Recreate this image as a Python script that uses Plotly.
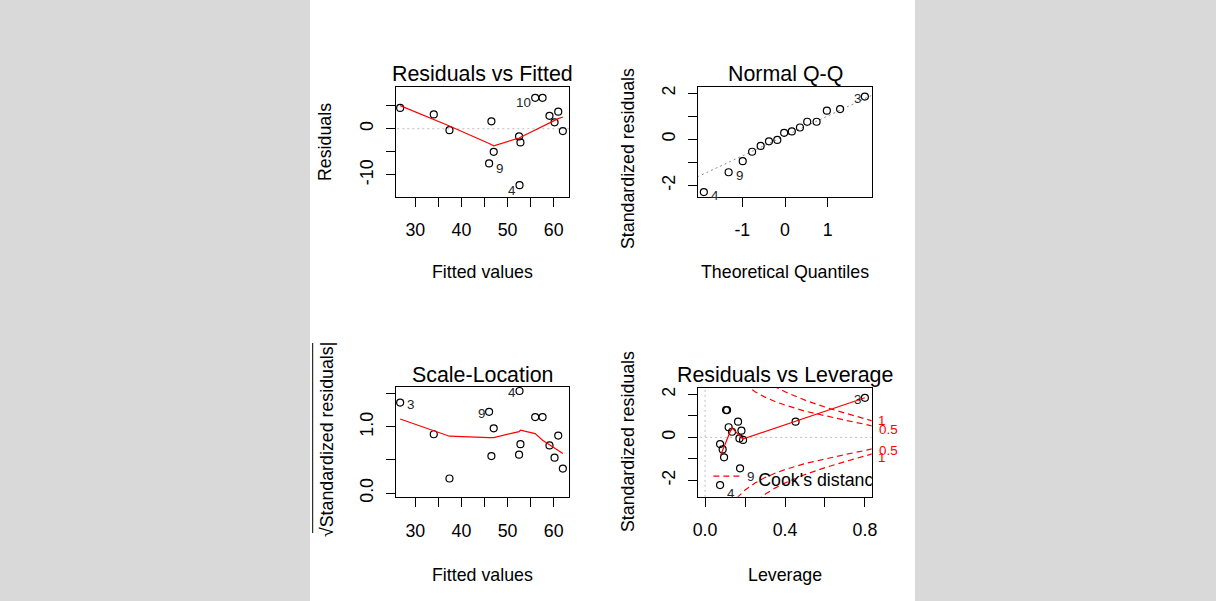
import plotly.graph_objects as go

fitted = [26.7, 34.0, 37.4, 46.0, 46.5, 47.0, 52.5, 52.6, 52.8, 56.0, 57.6, 59.1, 60.2, 61.0, 62.0]
residuals = [4.5, 3.1, -0.3, -7.5, 1.6, -5.0, -1.65, -12.2, -2.95, 6.7, 6.7, 2.8, 1.4, 3.7, -0.5]
resid_smooth = [5.0, 2.0, 0.6, -3.2, -3.45, -3.7, -2.0, -1.95, -1.9, -0.3, 0.5, 1.27, 1.85, 2.2, 2.55]
sqrt_std_resid = [1.37, 0.89, 0.22, 1.23, 0.56, 0.98, 0.58, 1.545, 0.74, 1.15, 1.15, 0.72, 0.535, 0.87, 0.37]
scale_smooth = [1.12, 0.94, 0.86, 0.84, 0.84, 0.84, 0.93, 0.94, 0.95, 0.90, 0.80, 0.73, 0.68, 0.65, 0.60]
leverage = [0.80, 0.453, 0.172, 0.175, 0.182, 0.095, 0.075, 0.075, 0.088, 0.11, 0.105, 0.118, 0.135, 0.165, 0.19]
std_resid = [1.84, 0.73, -0.05, -1.44, 0.31, -0.93, -0.31, -2.22, -0.56, 1.27, 1.27, 0.47, 0.26, 0.73, -0.12]
obs_id = ["3", "", "", "9", "", "", "", "4", "", "10", "", "", "", "", ""]

# normal Q-Q
theo_quantiles = [-1.9, -1.32, -0.99, -0.77, -0.57, -0.375, -0.18, -0.02, 0.16, 0.35, 0.52, 0.74, 0.98, 1.29, 1.87]
sample_quantiles = [-2.29, -1.43, -0.95, -0.54, -0.29, -0.09, -0.03, 0.28, 0.34, 0.51, 0.76, 0.76, 1.24, 1.31, 1.85]
qq_line_x = [-2.05, 2.05]
qq_line_y = [-1.63, 1.92]

# residuals vs leverage
lev_smooth_x = [0.0785, 0.1335, 0.1885, 0.80]
lev_smooth_y = [-0.82, 0.45, -0.08, 1.84]
cook_h = [0.16, 0.2, 0.25, 0.3, 0.35, 0.4, 0.5, 0.6, 0.7, 0.8, 0.84]
cook_05 = [2.81, 2.45, 2.12, 1.87, 1.67, 1.5, 1.22, 1.0, 0.8, 0.61, 0.53]
cook_1 = [3.97, 3.46, 3.0, 2.65, 2.36, 2.12, 1.73, 1.41, 1.13, 0.87, 0.76]
cook_levels = ["1", "0.5", "0.5", "1"]
cook_label_y = [0.78, 0.36, -0.62, -0.92]

FONT = "Liberation Sans"
W, H = 1216, 601
RED = "#ff0000"


def px_x(v):
    return v / W


def px_y(v):
    return 1 - v / H


fig = go.Figure()

# --- panel 1: residuals vs fitted
fig.add_trace(go.Scatter(x=[25, 64], y=[0, 0], mode="lines", xaxis="x", yaxis="y",
                         line=dict(color="#bdbdbd", width=1, dash="2px,3px")))
fig.add_trace(go.Scatter(x=fitted, y=residuals, mode="markers", xaxis="x", yaxis="y",
                         marker=dict(symbol="circle-open", size=7, color="black", line=dict(width=1.2))))
fig.add_trace(go.Scatter(x=fitted, y=resid_smooth, mode="lines", xaxis="x", yaxis="y",
                         line=dict(color=RED, width=1.2)))

# --- panel 2: normal Q-Q
fig.add_trace(go.Scatter(x=qq_line_x, y=qq_line_y, mode="lines", xaxis="x2", yaxis="y2",
                         line=dict(color="#8c8c8c", width=1, dash="2px,3px")))
fig.add_trace(go.Scatter(x=theo_quantiles, y=sample_quantiles, mode="markers", xaxis="x2", yaxis="y2",
                         marker=dict(symbol="circle-open", size=7, color="black", line=dict(width=1.2))))

# --- panel 3: scale-location
fig.add_trace(go.Scatter(x=fitted, y=sqrt_std_resid, mode="markers", xaxis="x3", yaxis="y3",
                         marker=dict(symbol="circle-open", size=7, color="black", line=dict(width=1.2))))
fig.add_trace(go.Scatter(x=fitted, y=scale_smooth, mode="lines", xaxis="x3", yaxis="y3",
                         line=dict(color=RED, width=1.2)))

# --- panel 4: residuals vs leverage
fig.add_trace(go.Scatter(x=[-0.1, 1], y=[0, 0], mode="lines", xaxis="x4", yaxis="y4",
                         line=dict(color="#bdbdbd", width=1, dash="2px,3px")))
fig.add_trace(go.Scatter(x=[0, 0], y=[-3, 3], mode="lines", xaxis="x4", yaxis="y4",
                         line=dict(color="#bdbdbd", width=1, dash="2px,3px")))
for curve in (cook_05, cook_1):
    for sign in (1, -1):
        fig.add_trace(go.Scatter(x=cook_h, y=[sign * v for v in curve], mode="lines",
                                 xaxis="x4", yaxis="y4",
                                 line=dict(color=RED, width=1.2, dash="6px,4px")))
fig.add_trace(go.Scatter(x=leverage, y=std_resid, mode="markers", xaxis="x4", yaxis="y4",
                         marker=dict(symbol="circle-open", size=7, color="black", line=dict(width=1.2))))
fig.add_trace(go.Scatter(x=lev_smooth_x, y=lev_smooth_y, mode="lines", xaxis="x4", yaxis="y4",
                         line=dict(color=RED, width=1.2)))
# legend, clipped by the plot area as in the original
fig.add_trace(go.Scatter(x=[0.0415, 0.1915], y=[-1.8, -1.8], mode="lines", xaxis="x4", yaxis="y4",
                         line=dict(color=RED, width=1.2, dash="6px,4px")))
fig.add_trace(go.Scatter(x=[0.266], y=[-2.07], mode="text", text=["Cook's distance"],
                         textposition="middle right", xaxis="x4", yaxis="y4",
                         textfont=dict(family=FONT, size=17.8, color="black")))


def axis(domain, anchor, rng, tickvals, ticktext, is_y=False):
    d = dict(domain=domain, anchor=anchor, range=rng, tickmode="array", automargin=False,
             tickvals=tickvals, ticktext=ticktext, showline=True, mirror=True,
             linecolor="black", linewidth=1, ticks="outside", ticklen=9,
             tickcolor="black", tickwidth=1, showgrid=False, zeroline=False,
             tickfont=dict(family=FONT, size=17.8, color="black"))
    if is_y:
        d.update(tickangle=-90, ticklabelstandoff=6)
    else:
        d.update(ticklabelstandoff=8)
    return d


fx = [30, 35, 40, 45, 50, 55, 60]
ft = ["30", "", "40", "", "50", "", "60"]
std_ticks = [-2, -1, 0, 1, 2]
std_text = ["-2", "", "0", "", "2"]

top_dom = [px_y(196.7), px_y(86.7)]
bot_dom = [px_y(497.3), px_y(386.7)]
left_dom = [px_x(396), px_x(569.3)]
right_dom = [px_x(698.3), px_x(871.7)]

fig.update_layout(
    width=W, height=H, autosize=False,
    margin=dict(l=0, r=0, t=0, b=0, autoexpand=False),
    paper_bgcolor="#d9d9d9",
    plot_bgcolor="white",
    showlegend=False,
    font=dict(family=FONT, color="black"),
    xaxis=axis(left_dom, "y", [25.8, 63.4], fx, ft),
    yaxis=axis(top_dom, "x", [-14.7, 9.1], [-10, -5, 0, 5], ["-10", "", "0", ""], True),
    xaxis2=axis(right_dom, "y2", [-2.03, 2.03], [-1, 0, 1], ["-1", "0", "1"]),
    yaxis2=axis(top_dom, "x2", [-2.49, 2.28], std_ticks, std_text, True),
    xaxis3=axis(left_dom, "y3", [25.8, 63.4], fx, ft),
    yaxis3=axis(bot_dom, "x3", [-0.065, 1.61], [0, 0.5, 1.0, 1.5], ["0.0", "", "1.0", ""], True),
    xaxis4=axis(right_dom, "y4", [-0.034, 0.834], [0, 0.2, 0.4, 0.6, 0.8], ["0.0", "", "0.4", "", "0.8"]),
    yaxis4=axis([px_y(496.7), px_y(387.7)], "x4", [-2.76, 2.31], std_ticks, std_text, True),
)

# white figure region
fig.add_shape(type="rect", xref="paper", yref="paper", x0=px_x(310), x1=px_x(915), y0=0, y1=1,
              fillcolor="white", line=dict(width=0), layer="below")

ann = []


def text(x, y, s, size=17.8, angle=0, **kw):
    ann.append(dict(x=x, y=y, xref="paper", yref="paper", text=s, showarrow=False,
                    xanchor="center", yanchor="middle",
                    textangle=angle, font=dict(family=FONT, size=size, color="black"), **kw))


# titles
text(px_x(482.5), px_y(74), "Residuals vs Fitted", 21.4)
text(px_x(785), px_y(74), "Normal Q-Q", 21.4)
text(px_x(482.5), px_y(375), "Scale-Location", 21.4)
text(px_x(785), px_y(375), "Residuals vs Leverage", 21.4)
# axis titles
text(px_x(482.5), px_y(272), "Fitted values")
text(px_x(785), px_y(272), "Theoretical Quantiles")
text(px_x(482.5), px_y(575), "Fitted values")
text(px_x(785), px_y(575), "Leverage")
text(px_x(325), px_y(142), "Residuals", angle=-90)
text(px_x(628), px_y(159), "Standardized residuals", angle=-90)
text(px_x(327), px_y(440), "√Standardized residuals|", angle=-90)
text(px_x(628), px_y(442), "Standardized residuals", angle=-90)

# observation labels
ID_FONT = dict(family=FONT, size=13.4, color="#262626")


def id_label(xr, yr, x, y, s, side, dy=-5):
    left = side == "left"
    ann.append(dict(x=x, y=y, xref=xr, yref=yr, text=s, showarrow=False, font=ID_FONT,
                    xanchor="right" if left else "left", yanchor="middle",
                    xshift=-2 if left else 5, yshift=dy))


for i, s in enumerate(obs_id):
    if not s:
        continue
    # residuals vs fitted: 4, 9, 10
    if s != "3":
        id_label("x", "y", fitted[i], residuals[i], s, "left" if fitted[i] > 51 else "right")
    # scale-location and leverage: 3, 9, 4
    if s != "10":
        id_label("x3", "y3", fitted[i], sqrt_std_resid[i], s, "right" if s == "3" else "left", -2)
        id_label("x4", "y4", leverage[i], std_resid[i], s, "left" if s == "3" else "right",
                 -2 if s == "3" else -8)

# Q-Q labels
id_label("x2", "y2", theo_quantiles[0], sample_quantiles[0], "4", "right", -3)
id_label("x2", "y2", theo_quantiles[1], sample_quantiles[1], "9", "right", -3)
id_label("x2", "y2", theo_quantiles[-1], sample_quantiles[-1], "3", "left", -2)

# Cook's distance levels on the right edge
for lvl, yv in zip(cook_levels, cook_label_y):
    ann.append(dict(x=1, y=yv, xref="x4 domain", yref="y4", text=lvl, showarrow=False,
                    xanchor="left", yanchor="middle", xshift=4 if lvl == "1" else 5,
                    font=dict(family=FONT, size=13.4, color=RED)))

fig.update_layout(annotations=ann)

# vinculum of the square root in the scale-location label
fig.add_shape(type="line", xref="paper", yref="paper", x0=px_x(312.7), x1=px_x(312.7),
              y0=px_y(533), y1=px_y(343), line=dict(color="black", width=1))

page_fix = """
var gd = document.getElementsByClassName('plotly-graph-div')[0];
var wrap = gd.parentElement;
wrap.style.height = '601px'; wrap.style.width = '1216px'; wrap.style.overflow = 'hidden';
gd.style.display = 'block';
document.body.style.margin = '0'; document.body.style.padding = '0';
document.body.style.overflow = 'hidden';
document.documentElement.style.overflow = 'hidden';
"""

fig.write_html("out.html", config={"displayModeBar": False, "responsive": False},
               default_width="1216px", default_height="601px", post_script=page_fix)
